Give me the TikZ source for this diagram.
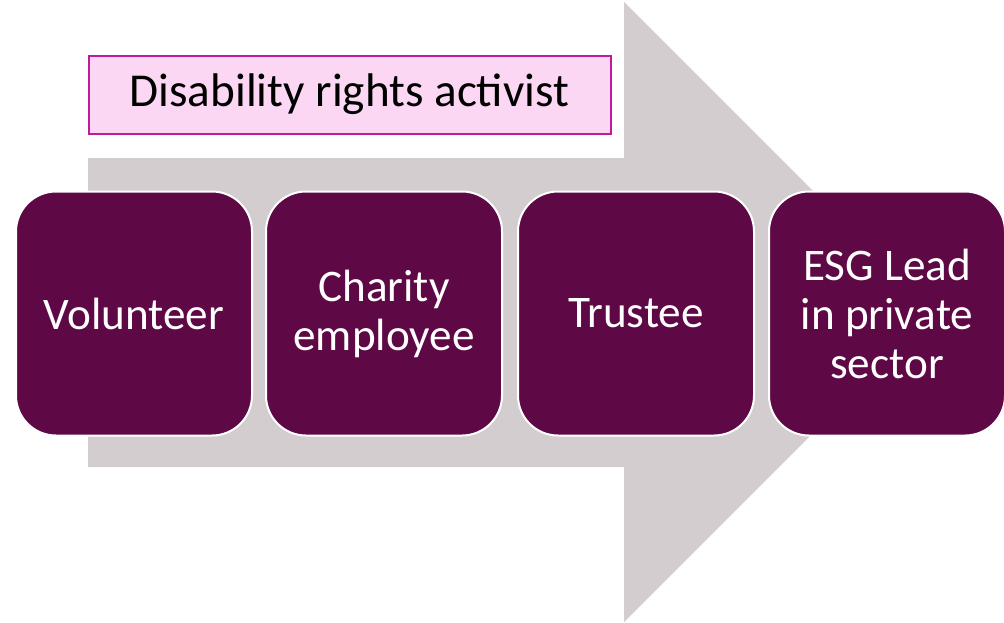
\documentclass[tikz,border=0pt]{standalone}
\usepackage{fontspec}
\setmainfont{Carlito}
\definecolor{plum}{RGB}{94,8,70}
\definecolor{arrowgrey}{RGB}{211,205,207}
\definecolor{labelpink}{RGB}{251,215,243}
\definecolor{labelrim}{RGB}{192,26,160}
\begin{document}
\begin{tikzpicture}[x=0.5pt,y=-0.5pt,
  stage/.style={draw=white,line width=1pt,fill=plum,rounded corners=20pt,
    minimum width=118pt,minimum height=122pt,inner sep=0pt,align=center,
    text=white,font=\fontsize{22.6}{24.5}\selectfont},
  role/.style={draw=labelrim,line width=1pt,fill=labelpink,
    minimum width=261pt,minimum height=39pt,inner sep=0pt,
    font=\fontsize{23.6}{26}\selectfont}]
  \useasboundingbox (0,0) rectangle (1004,622);
  % big arrow behind the boxes
  \fill[arrowgrey] (88,158) -- (624,158) -- (624,2) -- (934,312)
    -- (624,622) -- (624,467) -- (88,467) -- cycle;
  \node[role] (activist) at (349.5,94.5) {Disability rights activist};
  \node[stage] (volunteer) at (134,313.5) {Volunteer};
  \node[stage] (employee) at (384,313.5) {Charity\\employee};
  \node[stage] (trustee) at (636,313.5) {Trustee};
  \node[stage] (esg) at (887,313.5) {ESG Lead\\in private\\sector};
\end{tikzpicture}
\end{document}
